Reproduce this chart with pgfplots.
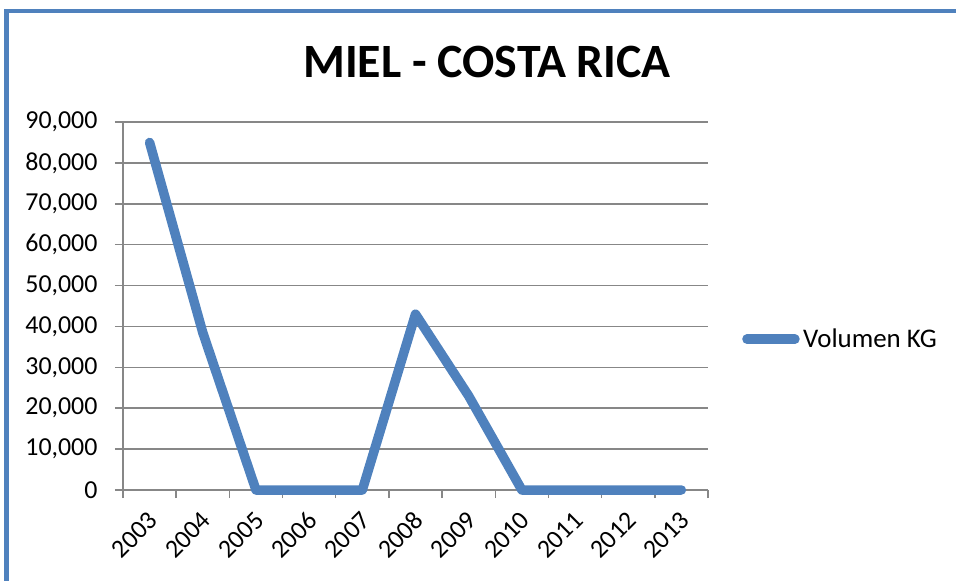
\documentclass[border=0pt]{standalone}
\usepackage{pgfplots}
\pgfplotsset{compat=1.18}
\usepackage{fontspec}
\setmainfont{Carlito}
\definecolor{serieblue}{HTML}{4F81BD}
\definecolor{gridgray}{HTML}{878787}

\begin{document}
\begin{tikzpicture}
\useasboundingbox (0bp,0bp) rectangle (956bp,-581bp);
% chart frame (left and top edges only)
\fill[serieblue] (4bp,-9bp) rectangle (956bp,-13bp);
\fill[serieblue] (4bp,-9bp) rectangle (9bp,-581bp);
\node[font=\fontsize{48}{56}\selectfont\bfseries] at (487bp,-62bp) {MIEL - COSTA RICA};
\begin{axis}[
    at={(123bp,-490bp)}, anchor=south west,
    width=585bp, height=368bp, scale only axis,
    xmin=-0.5, xmax=10.5, ymin=0, ymax=90000,
    xtick={0,1,2,3,4,5,6,7,8,9,10},
    xticklabels={2003,2004,2005,2006,2007,2008,2009,2010,2011,2012,2013},
    minor xtick={-0.5,0.5,1.5,2.5,3.5,4.5,5.5,6.5,7.5,8.5,9.5,10.5},
    major x tick style={draw=none},
    ytick={0,10000,20000,30000,40000,50000,60000,70000,80000,90000},
    ymajorgrids, grid style={gridgray, line width=1.5bp},
    axis x line*=bottom, axis y line*=left,
    axis line style={gridgray, line width=1.5bp, -},
    tick align=outside, tick style={gridgray, line width=1.5bp},
    major tick length=8bp, minor tick length=8bp,
    scaled y ticks=false,
    /pgf/number format/fixed,
    /pgf/number format/1000 sep={,},
    /pgf/number format/assume math mode=true,
    ticklabel style={font=\fontsize{26}{30}\selectfont, text=black},
    yticklabel style={xshift=-14bp},
    xticklabel style={xshift=6bp, yshift=-16bp, rotate=45, anchor=east},
    clip=false,
    legend style={draw=none, fill=none, at={(1,0.41)}, anchor=west,
        xshift=34bp, font=\fontsize{27}{31}\selectfont, inner sep=0pt,
        nodes={inner xsep=3.5bp, inner ysep=0bp}},
    legend image code/.code={\draw[#1, line cap=round] (0bp,0bp) -- (48bp,0bp);},
]
\addplot[serieblue, line width=9.5bp, line cap=round, line join=round]
    coordinates {(0,85000)(1,38500)(2,0)(3,0)(4,0)(5,43000)(6,23000)(7,0)(8,0)(9,0)(10,0)};
\addlegendentry{Volumen KG}
\end{axis}
\end{tikzpicture}
\end{document}
